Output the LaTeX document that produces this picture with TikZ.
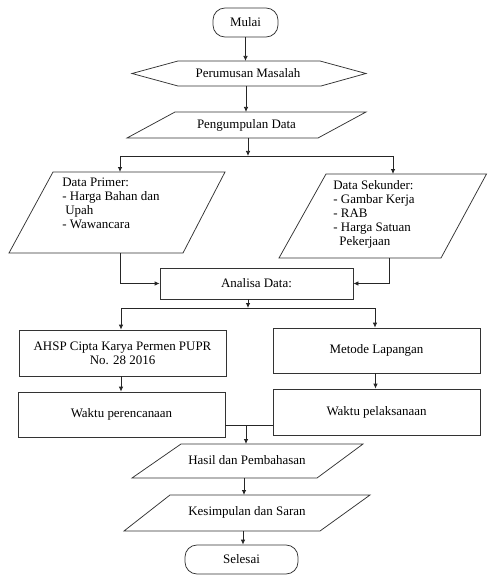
\documentclass[tikz,border=0pt]{standalone}
\usepackage{fontspec}
\setmainfont{Liberation Serif}
\newfontfamily\tnrfont{Liberation Serif}
\usetikzlibrary{arrows.meta}
\begin{document}
\begin{tikzpicture}[x=1bp,y=-1bp,
  line width=0.75bp,
  every node/.style={font=\tnrfont\fontsize{13}{14}\selectfont, inner sep=0pt, text=black},
  arr/.style={draw=black!85,-{Latex[length=5bp,width=4.5bp]}},
  ln/.style={draw=black!85},
  outline/.style={draw=black!80},
  box/.style={draw=black!80, rectangle, align=center},
  term/.style={draw=black!80, rectangle, rounded corners=12bp},
  lbl/.style={align=center},
  listtxt/.style={align=left, anchor=north west},
]
\useasboundingbox (0,0) rectangle (488,575);

% ---------- shapes ----------
\node[term, minimum width=65bp, minimum height=29bp] (mulai) at (245.5,22.5) {Mulai};

\draw[outline] (178,61) -- (320,61) -- (366,73.5) -- (321,86) -- (178,86) -- (132,73.5) -- cycle;
\node[lbl] (pm) at (248,73.5) {Perumusan Masalah};

\draw[outline] (175,112) -- (366,112) -- (318,138) -- (127,138) -- cycle;
\node[lbl] (pd) at (246.5,125) {Pengumpulan Data};

\draw[outline] (53,172) -- (225,172) -- (183,253) -- (9,253) -- cycle;
\node[listtxt] (dp) at (62,178) {Data Primer:\\- Harga Bahan dan\\\hspace*{3bp}Upah\\- Wawancara};

\draw[outline] (326,174) -- (486.5,174) -- (441,258) -- (279,258) -- cycle;
\node[listtxt] (ds) at (333,180) {Data Sekunder:\\- Gambar Kerja\\- RAB\\- Harga Satuan\\\hspace*{6bp}Pekerjaan};

\node[box, minimum width=193bp, minimum height=31bp] (ana) at (256.5,283.5) {Analisa Data:};

\node[box, minimum width=207bp, minimum height=46bp] (ahsp) at (122.5,353) {AHSP Cipta Karya Permen PUPR\\No. 28 2016};
\node[box, minimum width=207bp, minimum height=45bp] (met) at (376.5,350.5) {Metode Lapangan};
\node[box, minimum width=207bp, minimum height=45bp] (wp) at (121.5,414.5) {Waktu perencanaan};
\node[box, minimum width=207bp, minimum height=46bp] (wl) at (376.5,412) {Waktu pelaksanaan};

\draw[outline] (181,444) -- (363,444) -- (317,478) -- (132,478) -- cycle;
\node[lbl] (hp) at (247,460) {Hasil dan Pembahasan};

\draw[outline] (170,495) -- (370,495) -- (320,531) -- (124,531) -- cycle;
\node[lbl] (ks) at (247,512) {Kesimpulan dan Saran};

\node[term, minimum width=113bp, minimum height=29bp] (sel) at (241.5,559.5) {Selesai};

% ---------- named points on outlines ----------
\coordinate (pmT) at (245.5,61);
\coordinate (pmB) at (246,86);
\coordinate (pdT) at (246,112);
\coordinate (pdB) at (248,138);
\coordinate (s1) at (248,156);
\coordinate (s1l) at (120,156);
\coordinate (s1r) at (393,156);
\coordinate (dpT) at (120,172);
\coordinate (dsT) at (393,174);
\coordinate (dpB) at (120,253);
\coordinate (dsB) at (389,258);
\coordinate (s2) at (248,308);
\coordinate (s2l) at (121,308);
\coordinate (s2r) at (375,308);
\coordinate (j) at (246,425);
\coordinate (hpT) at (246,444);
\coordinate (hpB) at (244,478);
\coordinate (ksT) at (244,495);
\coordinate (ksB) at (243,531);

% ---------- connectors ----------
\draw[arr] (mulai.south) -- (pmT);
\draw[arr] (pmB) -- (pdT);
\draw[arr] (pdB) -- (s1);
\draw[ln] (s1l) -- (s1r);
\draw[arr] (s1l) -- (dpT);
\draw[arr] (s1r) -- (dsT);
\draw[arr] (dpB) |- (ana.west);
\draw[arr] (dsB) |- (ana.east);
\draw[arr] (ana.south -| s2) -- (s2);
\draw[ln] (s2l) -- (s2r);
\draw[arr] (s2l) -- (s2l |- ahsp.north);
\draw[arr] (s2r) -- (s2r |- met.north);
\draw[arr] (ahsp.south -| s2l) -- (s2l |- wp.north);
\draw[arr] ([xshift=-1bp]met.south) -- ([xshift=-1bp]met.south |- wl.north);
\draw[ln] (j -| wp.east) -- (j -| wl.west);
\draw[arr] (j) -- (hpT);
\draw[arr] (hpB) -- (ksT);
\draw[arr] (ksB) -- (ksB |- sel.north);
\end{tikzpicture}
\end{document}
